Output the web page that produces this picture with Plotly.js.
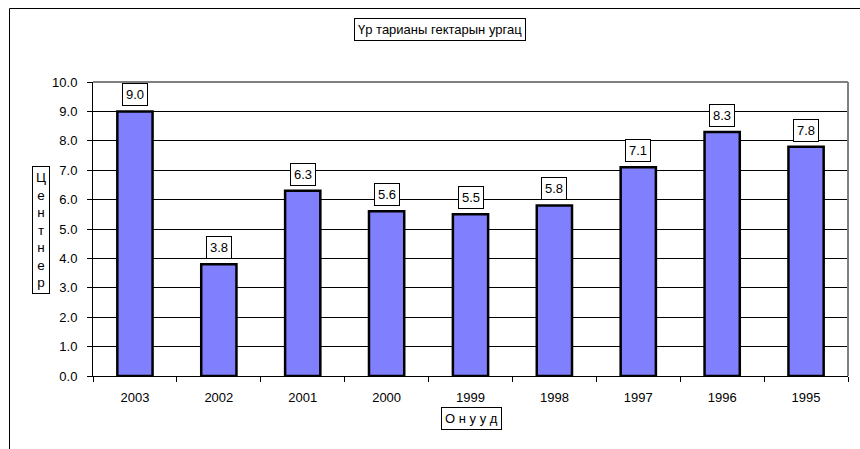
<!DOCTYPE html>
<html>
<head>
<meta charset="utf-8">
<script src="https://cdn.plot.ly/plotly-3.0.1.min.js"></script>
<style>html,body{margin:0;padding:0;background:#fff;}#chart{width:860px;height:449px;}</style>
</head>
<body>
<div id="chart"></div>
<script>
const years = ['2003','2002','2001','2000','1999','1998','1997','1996','1995'];
const yields = [9.0, 3.8, 6.3, 5.6, 5.5, 5.8, 7.1, 8.3, 7.8];
const chartTitle = 'Үр тарианы гектарын ургац';
const yTitleLetters = ['Ц','е','н','т','н','е','р'];
const xTitle = 'О н у у д';

const font = {family: '"Liberation Sans", Arial, sans-serif', size: 13, color: '#000000'};

const trace = {
  type: 'bar',
  x: years,
  y: yields,
  width: 0.42,
  marker: {color: '#8080FF', line: {color: '#000', width: 2.5}},
  hoverinfo: 'skip'
};

// category axis: annotation x given as category index so numeric-looking labels aren't read as positions
const labelAnns = years.map((yr, i) => ({
  x: i, y: yields[i], xref: 'x', yref: 'y',
  text: yields[i].toFixed(1),
  showarrow: false, yanchor: 'bottom', yshift: 5,
  bgcolor: '#fff', bordercolor: '#000', borderwidth: 1, borderpad: 3,
  font: font
}));

const pw = 755, ph = 294;
const layout = {
  width: 860, height: 449,
  margin: {l: 93, r: 12, t: 82, b: 73},
  paper_bgcolor: '#fff', plot_bgcolor: '#fff',
  font: font,
  showlegend: false,
  xaxis: {
    type: 'category',
    categoryorder: 'array', categoryarray: years,
    range: [-0.5, years.length - 0.5],
    showgrid: false,
    showline: true, linecolor: '#000', linewidth: 1,
    ticks: 'outside', tickson: 'boundaries', ticklen: 5, tickcolor: '#000',
    tickfont: font, tickangle: 0, ticklabelstandoff: 9,
    fixedrange: true
  },
  yaxis: {
    range: [0, 10], dtick: 1, tick0: 0,
    tickformat: '.1f',
    showgrid: true, gridcolor: '#000', gridwidth: 1,
    showline: true, linecolor: '#000', linewidth: 1,
    ticks: 'outside', ticklen: 5, tickcolor: '#000',
    tickfont: font, ticklabelstandoff: 7,
    zeroline: false,
    fixedrange: true
  },
  shapes: [
    {type: 'rect', xref: 'paper', yref: 'paper',
     x0: (9.5 - 93) / pw, x1: 2, y0: -1, y1: (376 - 8.5) / ph,
     line: {color: '#000', width: 1}, fillcolor: 'rgba(0,0,0,0)'},
    {type: 'line', xref: 'paper', yref: 'paper', x0: 0, x1: 1, y0: 1, y1: 1,
     line: {color: '#808080', width: 2}},
    {type: 'line', xref: 'paper', yref: 'paper', x0: 1, x1: 1, y0: 0, y1: 1,
     line: {color: '#808080', width: 2}}
  ],
  annotations: labelAnns.concat([
    {xref: 'paper', yref: 'paper', x: (439.5 - 93) / pw, y: (376 - 29.5) / ph,
     text: chartTitle, showarrow: false, xanchor: 'center', yanchor: 'middle',
     bgcolor: '#fff', bordercolor: '#000', borderwidth: 1, borderpad: 3, font: font},
    {xref: 'paper', yref: 'paper', x: (40.5 - 93) / pw, y: (376 - 229.5) / ph,
     text: yTitleLetters.join('<br>'), showarrow: false, xanchor: 'center', yanchor: 'middle',
     bgcolor: '#fff', bordercolor: '#000', borderwidth: 1, borderpad: 3,
     font: {family: font.family, size: 13.5, color: '#000000'}},
    {xref: 'paper', yref: 'paper', x: (471 - 93) / pw, y: (376 - 418.5) / ph,
     text: xTitle, showarrow: false, xanchor: 'center', yanchor: 'middle',
     bgcolor: '#fff', bordercolor: '#000', borderwidth: 1, borderpad: 3, font: font}
  ])
};

Plotly.newPlot('chart', [trace], layout, {displayModeBar: false, staticPlot: true});
</script>
</body>
</html>
